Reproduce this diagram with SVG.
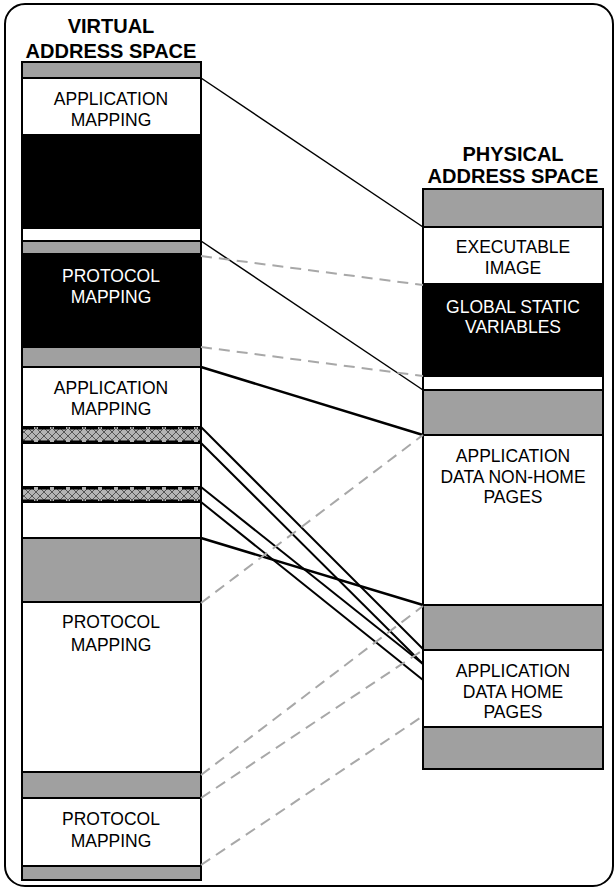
<svg xmlns="http://www.w3.org/2000/svg" width="615" height="888" viewBox="0 0 615 888">
<style>
text{font-family:"Liberation Sans",Arial,sans-serif;text-anchor:middle;}
.t{font-size:20px;font-weight:bold;fill:#000;}
.l{font-size:17.5px;fill:#000;}
.lw{font-size:17.5px;fill:#fff;}
.g{fill:#a0a0a0;stroke:#000;stroke-width:2;}
.w{fill:#fff;stroke:#000;stroke-width:2;}
.b{fill:#000;stroke:#000;stroke-width:2;}
.h{fill:url(#hatch);stroke:none;}
.hb{stroke:#000;stroke-width:3;stroke-dasharray:12,4;fill:none;}
.s{stroke:#000;stroke-width:1.5;fill:none;}
.k{stroke:#000;stroke-width:2.5;fill:none;}
.m{stroke:#000;stroke-width:2;fill:none;}
.d{stroke:#a8a8a8;stroke-width:2;stroke-dasharray:11,7;fill:none;}
</style>
<defs>
<pattern id="hatch" width="8" height="8" patternUnits="userSpaceOnUse">
<rect width="8" height="8" fill="#b4b4b4"/>
<path d="M0,0 L8,8 M8,0 L0,8" stroke="#555" stroke-width="1"/>
</pattern>
</defs>
<rect x="5" y="4" width="608" height="882" rx="20" fill="#fff" stroke="#000" stroke-width="2"/>
<g id="title-virtual">
<text class="t" x="111" y="33">VIRTUAL</text>
<text class="t" x="111" y="58">ADDRESS SPACE</text>
</g>
<g id="title-physical">
<text class="t" x="513" y="161">PHYSICAL</text>
<text class="t" x="513" y="183">ADDRESS SPACE</text>
</g>
<g id="virtual-space">
<g id="v-gray-1"><rect class="g" x="22" y="62" width="179" height="16"/></g>
<g id="v-app-1"><rect class="w" x="22" y="78" width="179" height="57"/>
<text class="l" x="111" y="105">APPLICATION</text><text class="l" x="111" y="126">MAPPING</text></g>
<g id="v-black-1"><rect class="b" x="22" y="135" width="179" height="93"/></g>
<g id="v-white-1"><rect class="w" x="22" y="228" width="179" height="13"/></g>
<g id="v-gray-2"><rect class="g" x="22" y="241" width="179" height="13"/></g>
<g id="v-proto-1"><rect class="b" x="22" y="254" width="179" height="93"/>
<text class="lw" x="111" y="282">PROTOCOL</text><text class="lw" x="111" y="303">MAPPING</text></g>
<g id="v-gray-3"><rect class="g" x="22" y="347" width="179" height="20"/></g>
<g id="v-app-2"><rect class="w" x="22" y="367" width="179" height="60"/>
<text class="l" x="111" y="394">APPLICATION</text><text class="l" x="111" y="415">MAPPING</text></g>
<g id="v-hatch-1"><rect class="h" x="22" y="427" width="179" height="16"/>
<line class="hb" x1="22" y1="428" x2="201" y2="428"/><line class="hb" x1="22" y1="442" x2="201" y2="442"/></g>
<g id="v-white-2"><rect class="w" x="22" y="443" width="179" height="44" stroke="none"/></g>
<g id="v-hatch-2"><rect class="h" x="22" y="487" width="179" height="15"/>
<line class="hb" x1="22" y1="488" x2="201" y2="488"/><line class="hb" x1="22" y1="501" x2="201" y2="501"/></g>
<g id="v-white-3"><rect class="w" x="22" y="502" width="179" height="36" stroke="none"/></g>
<g id="v-gray-4"><rect class="g" x="22" y="538" width="179" height="64"/></g>
<g id="v-proto-2"><rect class="w" x="22" y="602" width="179" height="170"/>
<text class="l" x="111" y="628">PROTOCOL</text><text class="l" x="111" y="651">MAPPING</text></g>
<g id="v-gray-5"><rect class="g" x="22" y="772" width="179" height="26"/></g>
<g id="v-proto-3"><rect class="w" x="22" y="798" width="179" height="68"/>
<text class="l" x="111" y="825">PROTOCOL</text><text class="l" x="111" y="847">MAPPING</text></g>
<g id="v-gray-6"><rect class="g" x="22" y="866" width="179" height="14"/></g>
<line class="m" x1="22" y1="427" x2="22" y2="538"/><line class="m" x1="201" y1="427" x2="201" y2="538"/>
</g>
<g id="physical-space">
<g id="p-gray-1"><rect class="g" x="423" y="189" width="180" height="38"/></g>
<g id="p-exec"><rect class="w" x="423" y="227" width="180" height="57"/>
<text class="l" x="513" y="253">EXECUTABLE</text><text class="l" x="513" y="274">IMAGE</text></g>
<g id="p-global"><rect class="b" x="423" y="284" width="180" height="92"/>
<text class="lw" x="513" y="313">GLOBAL STATIC</text><text class="lw" x="513" y="333">VARIABLES</text></g>
<g id="p-white"><rect class="w" x="423" y="376" width="180" height="14"/></g>
<g id="p-gray-2"><rect class="g" x="423" y="390" width="180" height="45"/></g>
<g id="p-nonhome"><rect class="w" x="423" y="435" width="180" height="170"/>
<text class="l" x="513" y="462">APPLICATION</text><text class="l" x="513" y="483">DATA NON-HOME</text><text class="l" x="513" y="503">PAGES</text></g>
<g id="p-gray-3"><rect class="g" x="423" y="605" width="180" height="45"/></g>
<g id="p-home"><rect class="w" x="423" y="650" width="180" height="77"/>
<text class="l" x="513" y="677">APPLICATION</text><text class="l" x="513" y="698">DATA HOME</text><text class="l" x="513" y="718">PAGES</text></g>
<g id="p-gray-4"><rect class="g" x="423" y="727" width="180" height="42"/></g>
</g>
<g id="connectors">
<line class="s" x1="201" y1="78" x2="423" y2="227"/>
<line class="s" x1="201" y1="241" x2="423" y2="390"/>
<line class="d" x1="201" y1="256" x2="423" y2="285"/>
<line class="d" x1="201" y1="347" x2="423" y2="376"/>
<line class="k" x1="201" y1="367" x2="423" y2="435"/>
<line class="k" x1="201" y1="538" x2="423" y2="605"/>
<line class="m" x1="201" y1="427" x2="423" y2="649"/>
<line class="m" x1="201" y1="443" x2="423" y2="664"/>
<line class="m" x1="201" y1="487" x2="423" y2="664"/>
<line class="m" x1="201" y1="502" x2="423" y2="680"/>
<line class="d" x1="201" y1="603" x2="423" y2="435"/>
<line class="d" x1="201" y1="775" x2="423" y2="606"/>
<line class="d" x1="201" y1="798" x2="423" y2="650"/>
<line class="d" x1="201" y1="865" x2="423" y2="716"/>
</g>
</svg>
